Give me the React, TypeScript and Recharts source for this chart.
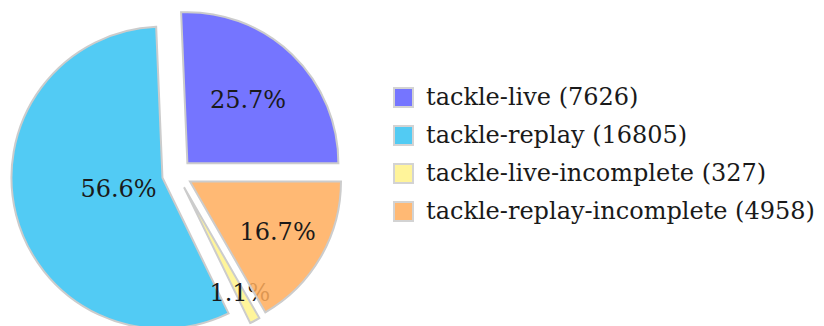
import { PieChart, Pie, Sector, Legend } from 'recharts'

const labels = ['tackle-live', 'tackle-replay', 'tackle-live-incomplete', 'tackle-replay-incomplete']
const counts = [7626, 16805, 327, 4958]
// base colours, drawn at 0.85 opacity over white like the original wedges
const colors = ['#5d5dff', '#34c2f2', '#fff389', '#ffad5c']
// how far out (share of the radius) each percentage sits in its wedge
const labelDist = [0.58, 0.3, 0.79, 0.67]

const data = labels.map((name, i) => ({ name, value: counts[i] }))

const RADIAN = Math.PI / 180
const EXPLODE = 15
const FONT = '"DejaVu Serif", serif'

// draws the exploded wedge and its percentage, in order, so later wedges cover earlier text
function explodedSlice(props: any) {
    const { cx, cy, midAngle, outerRadius, startAngle, endAngle, percent } = props
    const name = props.name ?? props.payload?.name
    const i = labels.indexOf(name)
    const cos = Math.cos(-midAngle * RADIAN)
    const sin = Math.sin(-midAngle * RADIAN)
    const ox = cx + EXPLODE * cos
    const oy = cy + EXPLODE * sin
    const r = outerRadius * labelDist[i]
    return (
        <g key={`slice-${i}`}>
            <Sector
                cx={ox}
                cy={oy}
                innerRadius={0}
                outerRadius={outerRadius}
                startAngle={startAngle}
                endAngle={endAngle}
                fill={colors[i]}
                fillOpacity={0.85}
                stroke="#cccccc"
                strokeWidth={2}
            />
            <text
                x={ox + r * cos}
                y={oy + r * sin}
                textAnchor="middle"
                dominantBaseline="central"
                fill="#1a1a1a"
                style={{ fontFamily: FONT, fontSize: 24 }}
            >
                {`${(percent * 100).toFixed(1)}%`}
            </text>
        </g>
    )
}

function LegendBox() {
    return (
        <div style={{ fontFamily: FONT, fontSize: 24, color: '#1a1a1a' }}>
            {labels.map((name, i) => (
                <div key={name} style={{ display: 'flex', alignItems: 'center', height: 38, whiteSpace: 'nowrap' }}>
                    <span
                        style={{
                            width: 17,
                            height: 17,
                            background: colors[i],
                            opacity: 0.85,
                            border: '2px solid #cccccc',
                            marginRight: 12,
                            display: 'inline-block',
                        }}
                    />
                    <span>{`${name} (${counts[i]})`}</span>
                </div>
            ))}
        </div>
    )
}

export default function App() {
    return (
        <div style={{ position: 'absolute', left: 0, top: 0, width: 824, height: 326, background: '#fff' }}>
            <PieChart width={824} height={326} margin={{ top: 0, right: 0, bottom: 0, left: 0 }}>
                <Pie
                    data={data}
                    dataKey="value"
                    nameKey="name"
                    cx={177}
                    cy={174}
                    innerRadius={0}
                    outerRadius={151}
                    startAngle={0}
                    endAngle={360}
                    fill="none"
                    stroke="none"
                    label={explodedSlice}
                    labelLine={false}
                    isAnimationActive={false}
                />
                <Legend
                    layout="vertical"
                    align="right"
                    verticalAlign="top"
                    content={() => <LegendBox />}
                    wrapperStyle={{ left: 393, top: 78, width: 'auto', right: 'auto' }}
                />
            </PieChart>
        </div>
    )
}
